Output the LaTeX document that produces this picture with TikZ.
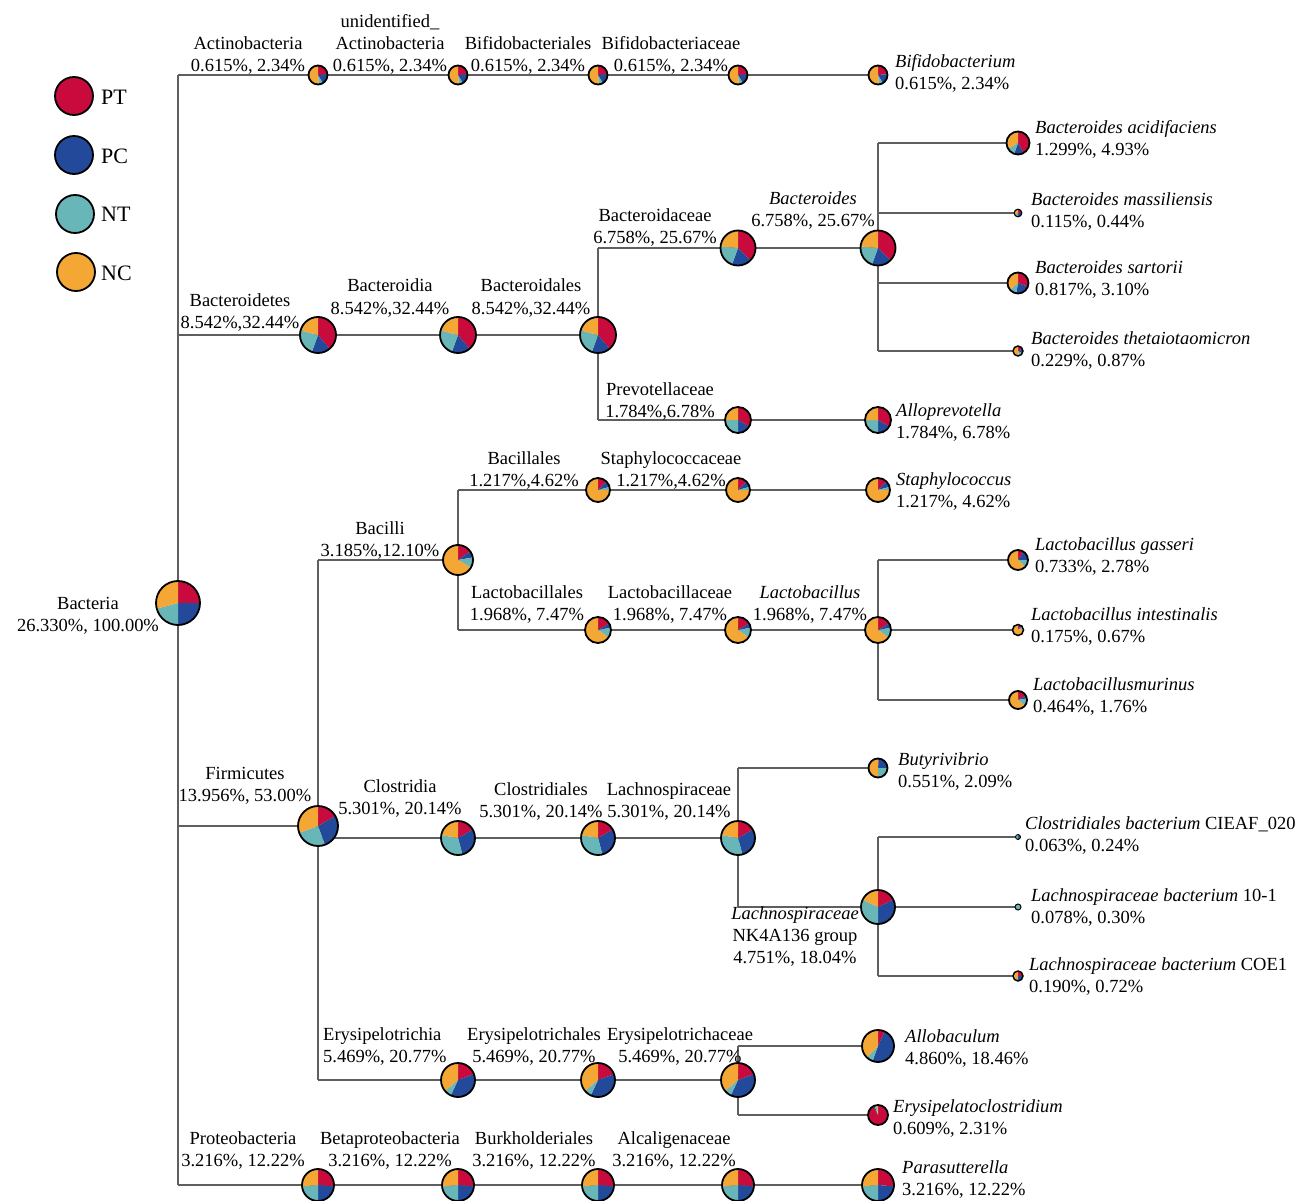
\documentclass[tikz,border=0pt]{standalone}
\usepackage{fontspec}
\setmainfont{Liberation Serif}
\definecolor{cPT}{RGB}{200,10,60}
\definecolor{cPC}{RGB}{35,74,154}
\definecolor{cNT}{RGB}{104,182,184}
\definecolor{cNC}{RGB}{244,167,52}
\definecolor{cLine}{RGB}{95,95,95}
% #1 centre name, #2 radius (pt), #3 PT deg, #4 PC deg, #5 NT deg (NC = rest), clockwise from top
\newcommand{\pchart}[5]{%
  \pgfmathsetmacro{\myaA}{90-#3}%
  \pgfmathsetmacro{\myaB}{\myaA-#4}%
  \pgfmathsetmacro{\myaC}{\myaB-#5}%
  \pgfmathsetmacro{\mybw}{min(1.8,0.22*#2+0.3)}%
  \fill[cPT] (#1) -- ++(90:#2pt) arc[start angle=90,end angle=\myaA,radius=#2pt] -- cycle;
  \fill[cPC] (#1) -- ++(\myaA:#2pt) arc[start angle=\myaA,end angle=\myaB,radius=#2pt] -- cycle;
  \fill[cNT] (#1) -- ++(\myaB:#2pt) arc[start angle=\myaB,end angle=\myaC,radius=#2pt] -- cycle;
  \fill[cNC] (#1) -- ++(\myaC:#2pt) arc[start angle=\myaC,end angle=-270,radius=#2pt] -- cycle;
  \draw[pieborder,line width=\mybw pt] (#1) circle[radius=#2pt];
}
\begin{document}
\begin{tikzpicture}[x=1pt,y=1pt,
  font=\fontsize{18.5}{22}\selectfont,
  branch/.style={draw=cLine,line width=1.5pt},
  pieborder/.style={draw=black},
  lab/.style={inner sep=0pt,align=center,anchor=base},
  leaf/.style={inner sep=0pt,align=left,anchor=base west},
  legc/.style={circle,draw=black,line width=1.8pt,minimum size=38pt,inner sep=0pt},
  legt/.style={inner sep=0pt,anchor=west,font=\fontsize{22}{26}\selectfont}]
\fill[white] (0,0) rectangle (1302,-1201);
\useasboundingbox (0,0) rectangle (1302,-1201);

% ---------- centres ----------
\coordinate (bact) at (178,-603);
\coordinate (acti) at (318,-75);
\coordinate (unid) at (458,-75);
\coordinate (bifo) at (598,-75);
\coordinate (bifa) at (738,-75);
\coordinate (bifg) at (878,-75);
\coordinate (bctd) at (318,-335);
\coordinate (bctia) at (458,-335);
\coordinate (bctl) at (598,-335);
\coordinate (bcta) at (738,-248);
\coordinate (bctg) at (878,-248);
\coordinate (bacid) at (1018,-143);
\coordinate (bmass) at (1018,-213);
\coordinate (bsart) at (1018,-283);
\coordinate (bthet) at (1018,-351);
\coordinate (prev) at (738,-420);
\coordinate (allo) at (878,-420);
\coordinate (bcli) at (458,-560);
\coordinate (bcll) at (598,-490);
\coordinate (stpa) at (738,-490);
\coordinate (stpg) at (878,-490);
\coordinate (lctl) at (598,-630);
\coordinate (lcta) at (738,-630);
\coordinate (lctg) at (878,-630);
\coordinate (lgas) at (1018,-560);
\coordinate (lint) at (1018,-630);
\coordinate (lmur) at (1018,-700);
\coordinate (firm) at (318,-826);
\coordinate (clos) at (458,-838);
\coordinate (clol) at (598,-838);
\coordinate (lach) at (738,-838);
\coordinate (buty) at (878,-768);
\coordinate (nk) at (878,-907);
\coordinate (ciea) at (1018,-837);
\coordinate (lbten) at (1018,-907);
\coordinate (coe) at (1018,-976);
\coordinate (eryt) at (458,-1080);
\coordinate (eryl) at (598,-1080);
\coordinate (eryc) at (738,-1080);
\coordinate (allb) at (878,-1046);
\coordinate (erys) at (878,-1115);
\coordinate (prot) at (318,-1185);
\coordinate (beta) at (458,-1185);
\coordinate (burk) at (598,-1185);
\coordinate (alca) at (738,-1185);
\coordinate (para) at (878,-1185);

% ---------- connectors ----------
\draw[branch] (bact |- acti) -- (bact |- prot);
\draw[branch] (bact |- acti) -- (bifg);
\draw[branch] (bact |- bctd) -- (bctl);
\draw[branch] (bctl |- bcta) -- (bctl |- prev);
\draw[branch] (bctl |- bcta) -- (bctg);
\draw[branch] (bctl |- prev) -- (allo);
\draw[branch] (bctg |- bacid) -- (bctg |- bthet);
\draw[branch] (bctg |- bacid) -- (bacid);
\draw[branch] (bctg |- bmass) -- (bmass);
\draw[branch] (bctg |- bsart) -- (bsart);
\draw[branch] (bctg |- bthet) -- (bthet);
\draw[branch] (bact |- firm) -- (firm);
\draw[branch] (firm |- bcli) -- (firm |- eryt);
\draw[branch] (firm |- bcli) -- (bcli);
\draw[branch] (bcli |- bcll) -- (bcli |- lctl);
\draw[branch] (bcli |- bcll) -- (stpg);
\draw[branch] (bcli |- lctl) -- (lctg);
\draw[branch] (lctg |- lgas) -- (lctg |- lmur);
\draw[branch] (lctg |- lgas) -- (lgas);
\draw[branch] (lctg) -- (lint);
\draw[branch] (lctg |- lmur) -- (lmur);
\draw[branch] (firm |- clos) -- (lach);
\draw[branch] (lach |- buty) -- (lach |- nk);
\draw[branch] (lach |- buty) -- (buty);
\draw[branch] (lach |- nk) -- (nk);
\draw[branch] (nk |- ciea) -- (nk |- coe);
\draw[branch] (nk |- ciea) -- (ciea);
\draw[branch] (nk) -- (lbten);
\draw[branch] (nk |- coe) -- (coe);
\draw[branch] (firm |- eryt) -- (eryc);
\draw[branch] (eryc |- allb) -- (eryc |- erys);
\draw[branch] (eryc |- allb) -- (allb);
\draw[branch] (eryc |- erys) -- (erys);
\draw[branch] (bact |- prot) -- (para);

% ---------- pies ----------
\pchart{bact}{22}{90}{90}{75}
\pchart{acti}{9.5}{85}{65}{25}
\pchart{unid}{9.5}{85}{65}{25}
\pchart{bifo}{9.5}{85}{65}{25}
\pchart{bifa}{9.5}{85}{65}{25}
\pchart{bifg}{9.5}{85}{65}{25}
\pchart{bctd}{18}{140}{60}{85}
\pchart{bctia}{18}{140}{60}{85}
\pchart{bctl}{18}{140}{60}{85}
\pchart{bcta}{17.5}{135}{65}{75}
\pchart{bctg}{17.5}{135}{65}{75}
\pchart{bacid}{11.5}{150}{50}{40}
\pchart{bmass}{3.8}{90}{90}{60}
\pchart{bsart}{10.5}{110}{80}{40}
\pchart{bthet}{5}{60}{60}{50}
\pchart{prev}{13}{120}{60}{90}
\pchart{allo}{13}{120}{60}{90}
\pchart{bcli}{15}{55}{25}{40}
\pchart{bcll}{12}{45}{30}{15}
\pchart{stpa}{12}{45}{30}{15}
\pchart{stpg}{12}{45}{30}{15}
\pchart{lctl}{13}{60}{20}{45}
\pchart{lcta}{13}{60}{20}{45}
\pchart{lctg}{13}{60}{20}{45}
\pchart{lgas}{10}{35}{55}{45}
\pchart{lint}{5.5}{30}{20}{20}
\pchart{lmur}{9}{60}{20}{50}
\pchart{firm}{20}{60}{100}{90}
\pchart{clos}{17}{60}{105}{115}
\pchart{clol}{17}{60}{105}{115}
\pchart{lach}{17}{60}{105}{115}
\pchart{buty}{9.5}{5}{85}{90}
\pchart{nk}{17}{65}{115}{115}
\pchart{ciea}{2.5}{0}{180}{180}
\pchart{lbten}{3}{0}{0}{360}
\pchart{coe}{5}{90}{90}{20}
\pchart{eryt}{17}{70}{135}{25}
\pchart{eryl}{17}{70}{135}{25}
\pchart{eryc}{17}{70}{135}{25}
\pchart{allb}{16}{25}{175}{25}
\pchart{erys}{10}{330}{10}{10}
\pchart{prot}{16}{95}{85}{85}
\pchart{beta}{16}{95}{85}{85}
\pchart{burk}{16}{95}{85}{85}
\pchart{alca}{16}{95}{85}{85}
\pchart{para}{16}{95}{85}{85}

% ---------- labels ----------
\node[lab] (tBact) at (88,-631) {Bacteria\\26.330\%, 100.00\%};
\node[lab] (tActi) at (248,-72) {Actinobacteria\\0.615\%, 2.34\%};
\node[lab] (tUnid) at (390,-72) {unidentified\_\\Actinobacteria\\0.615\%, 2.34\%};
\node[lab] (tBifo) at (528,-72) {Bifidobacteriales\\0.615\%, 2.34\%};
\node[lab] (tBifa) at (671,-72) {Bifidobacteriaceae\\0.615\%, 2.34\%};
\node[leaf] (tBifg) at (895,-90) {\textit{Bifidobacterium}\\0.615\%, 2.34\%};
\node[lab] (tBctd) at (240,-328) {Bacteroidetes\\8.542\%,32.44\%};
\node[lab] (tBctia) at (390,-314) {Bacteroidia\\8.542\%,32.44\%};
\node[lab] (tBctl) at (531,-314) {Bacteroidales\\8.542\%,32.44\%};
\node[lab] (tBcta) at (655,-244) {Bacteroidaceae\\6.758\%, 25.67\%};
\node[lab] (tBctg) at (813,-227) {\textit{Bacteroides}\\6.758\%, 25.67\%};
\node[leaf] (tBacid) at (1035,-156) {\textit{Bacteroides acidifaciens}\\1.299\%, 4.93\%};
\node[leaf] (tBmass) at (1031,-228) {\textit{Bacteroides massiliensis}\\0.115\%, 0.44\%};
\node[leaf] (tBsart) at (1035,-296) {\textit{Bacteroides sartorii}\\0.817\%, 3.10\%};
\node[leaf] (tBthet) at (1031,-366) {\textit{Bacteroides thetaiotaomicron}\\0.229\%, 0.87\%};
\node[lab] (tPrev) at (660,-417) {Prevotellaceae\\1.784\%,6.78\%};
\node[leaf] (tAllo) at (896,-438) {\textit{Alloprevotella}\\1.784\%, 6.78\%};
\node[lab] (tBcll) at (524,-486) {Bacillales\\1.217\%,4.62\%};
\node[lab] (tStpa) at (671,-486) {Staphylococcaceae\\1.217\%,4.62\%};
\node[leaf] (tStpg) at (896,-507) {\textit{Staphylococcus}\\1.217\%, 4.62\%};
\node[lab] (tBcli) at (380,-556) {Bacilli\\3.185\%,12.10\%};
\node[lab] (tLctl) at (527,-620) {Lactobacillales\\1.968\%, 7.47\%};
\node[lab] (tLcta) at (670,-620) {Lactobacillaceae\\1.968\%, 7.47\%};
\node[lab] (tLctg) at (810,-620) {\textit{Lactobacillus}\\1.968\%, 7.47\%};
\node[leaf] (tLgas) at (1035,-572) {\textit{Lactobacillus gasseri}\\0.733\%, 2.78\%};
\node[leaf] (tLint) at (1031,-642) {\textit{Lactobacillus intestinalis}\\0.175\%, 0.67\%};
\node[leaf] (tLmur) at (1033,-712) {\textit{Lactobacillusmurinus}\\0.464\%, 1.76\%};
\node[lab] (tFirm) at (245,-801) {Firmicutes\\13.956\%, 53.00\%};
\node[lab] (tClos) at (400,-814) {Clostridia\\5.301\%, 20.14\%};
\node[lab] (tClol) at (541,-817) {Clostridiales\\5.301\%, 20.14\%};
\node[lab] (tLach) at (669,-817) {Lachnospiraceae\\5.301\%, 20.14\%};
\node[leaf] (tButy) at (898,-787) {\textit{Butyrivibrio}\\0.551\%, 2.09\%};
\node[lab] (tNk) at (795,-963) {\textit{Lachnospiraceae}\\NK4A136 group\\4.751\%, 18.04\%};
\node[leaf] (tCiea) at (1025,-851) {\textit{Clostridiales bacterium} CIEAF\_020\\0.063\%, 0.24\%};
\node[leaf] (tLbten) at (1031,-923) {\textit{Lachnospiraceae bacterium} 10-1\\0.078\%, 0.30\%};
\node[leaf] (tCoe) at (1029,-992) {\textit{Lachnospiraceae bacterium} COE1\\0.190\%, 0.72\%};
\node[leaf] (tEryt) at (323,-1062) {Erysipelotrichia\\5.469\%, 20.77\%};
\node[lab] (tEryl) at (534,-1062) {Erysipelotrichales\\5.469\%, 20.77\%};
\node[lab] (tEryc) at (680,-1062) {Erysipelotrichaceae\\5.469\%, 20.77\%};
\node[leaf] (tAllb) at (905,-1064) {\textit{Allobaculum}\\4.860\%, 18.46\%};
\node[leaf] (tErys) at (893,-1134) {\textit{Erysipelatoclostridium}\\0.609\%, 2.31\%};
\node[lab] (tProt) at (243,-1166) {Proteobacteria\\3.216\%, 12.22\%};
\node[lab] (tBeta) at (390,-1166) {Betaproteobacteria\\3.216\%, 12.22\%};
\node[lab] (tBurk) at (534,-1166) {Burkholderiales\\3.216\%, 12.22\%};
\node[lab] (tAlca) at (674,-1166) {Alcaligenaceae\\3.216\%, 12.22\%};
\node[leaf] (tPara) at (902,-1195) {\textit{Parasutterella}\\3.216\%, 12.22\%};

% ---------- legend ----------
\node[legc,fill=cPT] (kPT) at (74,-96) {};
\node[legc,fill=cPC] (kPC) at (74,-155) {};
\node[legc,fill=cNT] (kNT) at (75,-214) {};
\node[legc,fill=cNC] (kNC) at (76,-272) {};
\node[legt] (kPTt) at (101,-97) {PT};
\node[legt] (kPCt) at (101,-156) {PC};
\node[legt] (kNTt) at (101,-214) {NT};
\node[legt] (kNCt) at (101,-273) {NC};
\end{tikzpicture}
\end{document}
